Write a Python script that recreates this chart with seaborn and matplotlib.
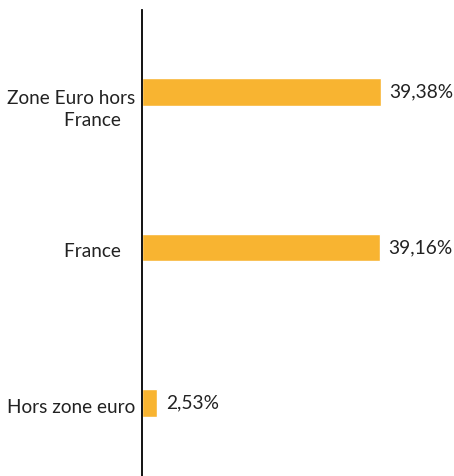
"""Répartition géographique - barres horizontales"""
import pandas as pd
import matplotlib
matplotlib.use("Agg")
import matplotlib.pyplot as plt
import matplotlib.transforms as mtransforms
import seaborn as sns

# Données
categories = ["Zone Euro hors\nFrance   ", "France   ", "Hors zone euro"]
valeurs = [39.38, 39.16, 2.53]
etiquettes = ["39,38%", "39,16%", "2,53%"]

couleur = "#F8B431"

sns.set_theme(style="white")
plt.rcParams['font.family'] = ['Lato', 'DejaVu Sans']

df = pd.DataFrame({"zone": categories, "part": valeurs})

fig = plt.figure(figsize=(4.54, 4.76), dpi=100)
ax = fig.add_axes([142 / 454, 0.0, 303.5 / 454, 466 / 476])

sns.barplot(data=df, y="zone", x="part", orient="h", color=couleur,
            saturation=1, width=0.175, ax=ax)

ax.set_xlim(0, 50)
ax.set_ylim(2.469, -0.527)

# Valeurs en bout de barre
ax.bar_label(ax.containers[0], labels=etiquettes, padding=6,
             fontsize=13.8, color="#222222")

# Axes
for side in ["top", "right", "bottom"]:
    ax.spines[side].set_visible(False)
ax.spines["left"].set_color("black")
ax.spines["left"].set_linewidth(1.3)
ax.set_xticks([])
ax.set_xlabel("")
ax.set_ylabel("")
ax.tick_params(axis="y", length=0, pad=5, labelsize=13.7, labelcolor="#222222")
# décalage vertical des libellés (la 1re ligne reste en face de la barre)
for lab in ax.get_yticklabels():
    lab.set_linespacing(1.35)
    dy = -14 if "\n" in lab.get_text() else -2.5
    lab.set_transform(lab.get_transform() +
                      mtransforms.ScaledTranslation(0, dy / 100, fig.dpi_scale_trans))
ax.grid(False)

fig.savefig("out.png", dpi=100)
plt.close(fig)
